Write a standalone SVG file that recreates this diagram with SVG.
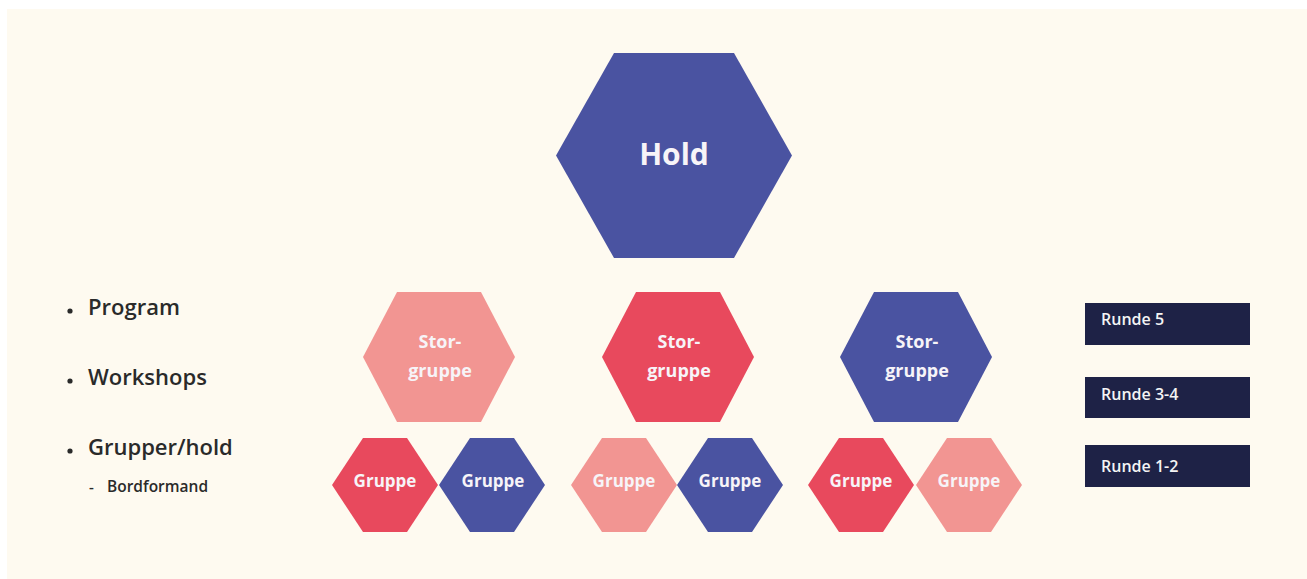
<svg xmlns="http://www.w3.org/2000/svg" width="1307" height="579" viewBox="0 0 1307 579">
<style>
.blue{fill:#4a53a1}
.red{fill:#e8495d}
.pink{fill:#f29592}
.ht{font-family:"Open Sans","Liberation Sans",sans-serif;font-weight:700;fill:#f7f4f8;text-anchor:middle}
.lt{font-family:"Open Sans","Liberation Sans",sans-serif;font-weight:600;fill:#2a2a2a}
.box{fill:#1e2246}
.bt{font-family:"Open Sans","Liberation Sans",sans-serif;font-weight:600;fill:#f4f4f4;font-size:16px}
</style>
<defs>
<polygon id="hexL" points="-118,0 -60,-102.5 60,-102.5 118,0 60,102.5 -60,102.5"/>
<polygon id="hexM" points="-76,0 -42,-65 42,-65 76,0 42,65 -42,65"/>
<polygon id="hexS" points="-53,0 -22,-47 22,-47 53,0 22,47 -22,47"/>
</defs>
<rect width="1307" height="579" fill="#ffffff"/>
<rect x="7" y="9" width="1300" height="570" fill="#fefaf0"/>
<g id="connectors"></g>
<g id="hold"><use href="#hexL" x="674" y="155.5" class="blue"/><text class="ht" x="674" y="165" font-size="30">Hold</text></g>
<g id="storgruppe1"><use href="#hexM" x="439" y="357" class="pink"/><text class="ht" x="440" y="348" font-size="18">Stor-</text><text class="ht" x="440" y="377" font-size="18">gruppe</text></g>
<g id="storgruppe2"><use href="#hexM" x="678" y="357" class="red"/><text class="ht" x="679" y="348" font-size="18">Stor-</text><text class="ht" x="679" y="377" font-size="18">gruppe</text></g>
<g id="storgruppe3"><use href="#hexM" x="916" y="357" class="blue"/><text class="ht" x="917" y="348" font-size="18">Stor-</text><text class="ht" x="917" y="377" font-size="18">gruppe</text></g>
<g id="gruppe1"><use href="#hexS" x="385" y="485" class="red"/><text class="ht" x="385" y="487" font-size="17">Gruppe</text></g>
<g id="gruppe2"><use href="#hexS" x="492" y="485" class="blue"/><text class="ht" x="493" y="487" font-size="17">Gruppe</text></g>
<g id="gruppe3"><use href="#hexS" x="624" y="485" class="pink"/><text class="ht" x="624" y="487" font-size="17">Gruppe</text></g>
<g id="gruppe4"><use href="#hexS" x="730" y="485" class="blue"/><text class="ht" x="730" y="487" font-size="17">Gruppe</text></g>
<g id="gruppe5"><use href="#hexS" x="861" y="485" class="red"/><text class="ht" x="861" y="487" font-size="17">Gruppe</text></g>
<g id="gruppe6"><use href="#hexS" x="969" y="485" class="pink"/><text class="ht" x="969" y="487" font-size="17">Gruppe</text></g>
<g id="list">
<circle cx="70" cy="311" r="2.6" fill="#2a2a2a"/><text class="lt" x="88" y="315" font-size="22">Program</text>
<circle cx="70" cy="381" r="2.6" fill="#2a2a2a"/><text class="lt" x="88" y="385" font-size="22">Workshops</text>
<circle cx="70" cy="451" r="2.6" fill="#2a2a2a"/><text class="lt" x="88" y="455" font-size="22">Grupper/hold</text>
<text class="lt" x="89" y="492" font-size="15">-</text><text class="lt" x="107" y="492" font-size="15.5">Bordformand</text>
</g>
<g id="runde5"><rect class="box" x="1085" y="303" width="165" height="42"/><text class="bt" x="1101" y="325">Runde 5</text></g>
<g id="runde34"><rect class="box" x="1085" y="377" width="165" height="41"/><text class="bt" x="1101" y="400">Runde 3-4</text></g>
<g id="runde12"><rect class="box" x="1085" y="445" width="165" height="42"/><text class="bt" x="1101" y="472">Runde 1-2</text></g>
</svg>
